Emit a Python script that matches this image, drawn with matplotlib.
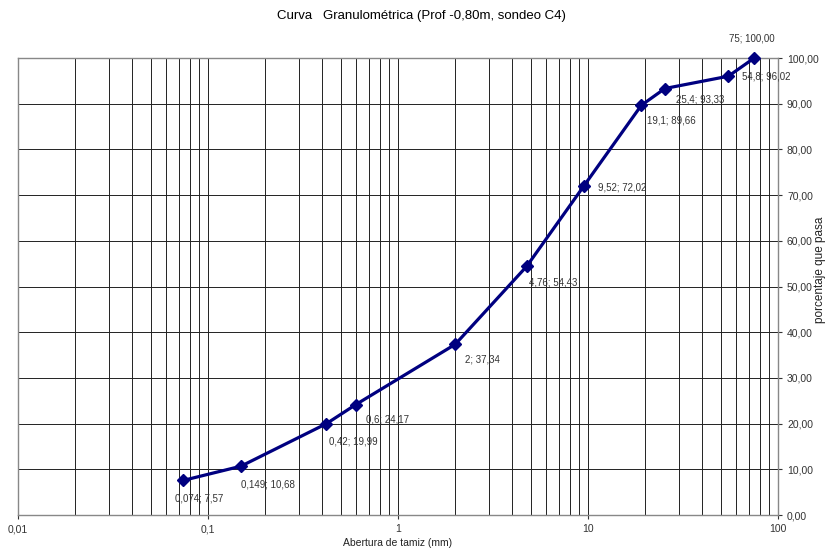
import matplotlib
matplotlib.use("Agg")
import matplotlib.pyplot as plt
from matplotlib.ticker import FixedLocator, LogLocator, FuncFormatter, NullFormatter

plt.rcParams['font.family'] = ['Liberation Sans', 'DejaVu Sans']

# sieve openings (mm) and percent passing
abertura = [0.074, 0.149, 0.42, 0.6, 2, 4.76, 9.52, 19.1, 25.4, 54.8, 75]
pasa = [7.57, 10.68, 19.99, 24.17, 37.34, 54.43, 72.02, 89.66, 93.33, 96.02, 100.00]
etiquetas = ["0,074; 7,57", "0,149; 10,68", "0,42; 19,99", "0,6; 24,17", "2; 37,34",
             "4,76; 54,43", "9,52; 72,02", "19,1; 89,66", "25,4; 93,33",
             "54,8; 96,02", "75; 100,00"]
x_ticks = [0.01, 0.1, 1, 10, 100]
x_ticklabels = ["0,01", "0,1", "1", "10", "100"]

# label offsets in points
offsets = [(-6, -13), (0, -13), (2, -13), (7, -11), (7, -11), (2, -12),
           (10, -1), (4, -11), (8, -8), (10, 0), (-18, 14)]

fig = plt.figure(figsize=(8.3, 5.5), dpi=100)
ax = fig.add_axes([0.0217, 0.0636, 0.9156, 0.8309])

ax.set_xscale("log")
ax.set_xlim(0.01, 100)
ax.set_ylim(0, 100)

ax.plot(abertura, pasa, color="#000080", lw=2.3, marker="D", markersize=6.5,
        zorder=3, clip_on=False)
for x, y, t, off in zip(abertura, pasa, etiquetas, offsets):
    ax.annotate(t, (x, y), xytext=off, textcoords="offset points", fontsize=7,
                color="#333333", ha="left", va="center")

ax.xaxis.set_major_locator(FixedLocator(x_ticks))
ax.set_xticklabels(x_ticklabels)
ax.xaxis.set_minor_locator(LogLocator(base=10, subs=range(2, 10)))
ax.xaxis.set_minor_formatter(NullFormatter())
ax.set_yticks(range(0, 101, 10))
ax.yaxis.set_major_formatter(FuncFormatter(lambda v, p: f"{v:.2f}".replace(".", ",")))
ax.yaxis.tick_right()

ax.grid(which="major", axis="both", color="#222222", lw=0.7)
ax.grid(which="minor", axis="x", color="#222222", lw=0.7)
ax.tick_params(axis="both", which="both", labelsize=7.5, colors="#333333", length=3)
ax.tick_params(axis="x", which="minor", length=0)
for s in ax.spines.values():
    s.set_color("#888888")
    s.set_linewidth(1.0)

fig.text(421 / 830, 1 - 16 / 550, "Curva   Granulométrica (Prof -0,80m, sondeo C4)",
         fontsize=9.5, ha="center", va="center")
fig.text(398 / 830, 1 - 543 / 550, "Abertura de tamiz (mm)", fontsize=7.5,
         ha="center", va="center", color="#222222")
fig.text(820 / 830, 1 - 270 / 550, "porcentaje que pasa", rotation=90, fontsize=8.5,
         ha="center", va="center", color="#222222")

fig.savefig("out.png", dpi=100)
